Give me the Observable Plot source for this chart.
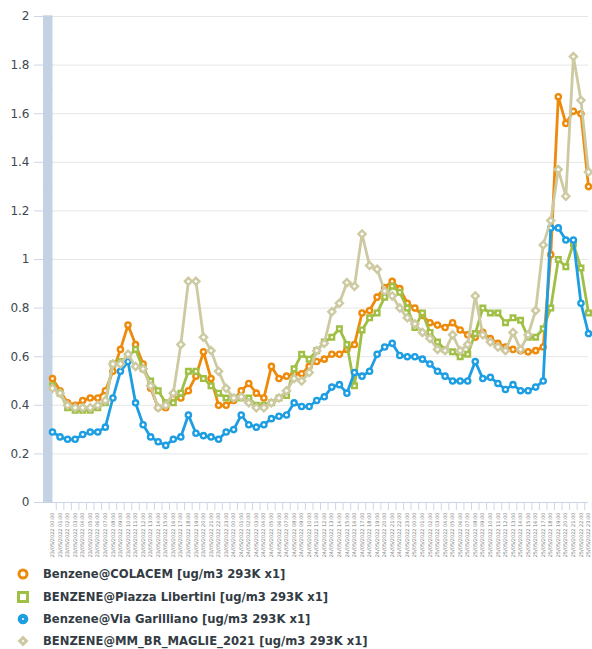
<!DOCTYPE html>
<html>
<head>
<meta charset="utf-8">
<script src="https://cdn.jsdelivr.net/npm/d3@7"></script>
<script src="https://cdn.jsdelivr.net/npm/@observablehq/plot@0.6"></script>
<style>
  html, body { margin: 0; padding: 0; background: #fff; overflow: hidden; }
  #chart { width: 592px; }
  .legend { font-family: "DejaVu Sans", Verdana, sans-serif; font-weight: bold; font-size: 11.6px; color: #333c44; padding: 1px 0 0 16px; }
  .legend .row { display: flex; align-items: center; height: 22.4px; white-space: nowrap; }
  .legend svg { margin-right: 13px; flex: none; }
</style>
</head>
<body>
<div id="chart"></div>
<script>
// ---- categories / tick labels ----
const days = ["23/05/2022", "24/05/2022", "25/05/2022"];
const hours = ["00:00","01:00","02:00","03:00","04:00","05:00","06:00","07:00","08:00","09:00","10:00","11:00",
               "12:00","13:00","14:00","15:00","16:00","17:00","18:00","19:00","20:00","21:00","22:00","23:00"];
const labels = days.flatMap(d => hours.map(h => `${d} ${h}`));

// ---- series values (ug/m3) ----
const colacem = [0.51,0.46,0.41,0.40,0.42,0.43,0.43,0.46,0.54,0.63,0.73,0.65,0.57,0.47,0.39,0.39,0.43,0.43,0.46,0.52,0.62,0.51,0.40,0.40,
                 0.42,0.46,0.49,0.45,0.43,0.56,0.51,0.52,0.53,0.53,0.56,0.58,0.59,0.61,0.61,0.63,0.65,0.78,0.79,0.845,0.885,0.91,0.88,0.82,
                 0.80,0.77,0.74,0.73,0.72,0.74,0.71,0.69,0.68,0.70,0.675,0.655,0.64,0.63,0.625,0.62,0.625,0.64,1.02,1.67,1.56,1.61,1.60,1.30];
const libertini = [0.48,0.45,0.39,0.38,0.38,0.38,0.39,0.41,0.57,0.58,0.60,0.63,0.55,0.50,0.46,0.41,0.41,0.45,0.54,0.54,0.51,0.48,0.45,0.43,
                   0.43,0.43,0.43,0.40,0.40,0.41,0.43,0.44,0.55,0.61,0.59,0.625,0.66,0.68,0.715,0.65,0.48,0.71,0.76,0.78,0.845,0.89,0.865,0.80,
                   0.72,0.78,0.70,0.66,0.63,0.62,0.60,0.61,0.695,0.80,0.78,0.78,0.74,0.76,0.75,0.68,0.68,0.715,0.80,1.00,0.97,1.065,0.965,0.78];
const garilliano = [0.29,0.27,0.26,0.26,0.28,0.29,0.29,0.31,0.43,0.54,0.58,0.41,0.32,0.27,0.25,0.235,0.26,0.27,0.36,0.285,0.275,0.27,0.26,0.29,
                    0.30,0.36,0.32,0.31,0.32,0.345,0.355,0.36,0.41,0.395,0.395,0.42,0.435,0.475,0.485,0.45,0.535,0.52,0.54,0.61,0.64,0.655,0.605,0.60,
                    0.60,0.59,0.57,0.54,0.52,0.50,0.50,0.50,0.58,0.51,0.515,0.49,0.465,0.485,0.46,0.46,0.475,0.50,1.13,1.13,1.08,1.08,0.82,0.695];
const maglie = [0.47,0.45,0.40,0.39,0.39,0.39,0.40,0.42,0.57,0.57,0.61,0.56,0.55,0.48,0.39,0.40,0.45,0.65,0.91,0.91,0.68,0.625,0.54,0.47,
                0.43,0.435,0.41,0.39,0.39,0.41,0.43,0.46,0.51,0.50,0.535,0.625,0.655,0.785,0.82,0.905,0.89,1.105,0.975,0.96,0.87,0.85,0.80,0.76,
                0.735,0.70,0.675,0.63,0.625,0.69,0.625,0.65,0.85,0.69,0.66,0.64,0.625,0.70,0.63,0.69,0.79,1.06,1.16,1.37,1.26,1.835,1.655,1.36];

const seriesNames = ["Benzene@COLACEM [ug/m3 293K x1]", "BENZENE@Piazza Libertini [ug/m3 293K x1]",
                     "Benzene@Via Garilliano [ug/m3 293K x1]", "BENZENE@MM_BR_MAGLIE_2021 [ug/m3 293K x1]"];
const seriesColors = ["#ee8a0a", "#a0bf45", "#1e9ee2", "#cdcaa2"];
const seriesSymbols = ["circle", "square", "circle", "diamond2"];
const seriesValues = [colacem, libertini, garilliano, maglie];

const yTicks = [0, 0.2, 0.4, 0.6, 0.8, 1, 1.2, 1.4, 1.6, 1.8, 2];
const bandStarts = [0,0.1,0.2,0.3,0.4,0.5,0.6,0.7,0.8,0.9,1.0,1.1,1.2,1.3,1.4,1.5,1.6,1.7,1.8,1.9];

const series = seriesNames.map((name, k) => ({
  name, color: seriesColors[k], symbol: seriesSymbols[k],
  data: seriesValues[k].map((v, i) => ({x: labels[i], y: v}))
}));

const marks = [
  Plot.gridY(yTicks, {stroke: "#e6e6e6", strokeOpacity: 1}),
  Plot.axisY(yTicks, {tickSize: 18, tickPadding: 5, stroke: "#ccd6eb", fontSize: 12, color: "#3d4852",
                      tickFormat: d => String(+d.toFixed(1)), label: null}),
  Plot.ruleX(bandStarts, {x: () => labels[0], y1: d => d, y2: d => d + 0.1, insetTop: 0.7, insetBottom: 0.7,
                          stroke: "#c3d3e3", strokeWidth: 9.5, dx: -4.75}),
  Plot.ruleY([0], {stroke: "#ccd6eb"}),
  Plot.axisX({tickSize: 8, text: null, stroke: "#ccd6eb", dx: 3.77, label: null}),
  Plot.axisX({tickSize: 0, tickPadding: 10, tickRotate: -90, fontSize: 5, color: "#7a7a7a", label: null})
];
for (const s of series) {
  marks.push(Plot.line(s.data, {x: "x", y: "y", stroke: s.color, strokeWidth: 2.8}));
  marks.push(Plot.dot(s.data, {x: "x", y: "y", symbol: () => s.symbol, stroke: s.color, fill: "#fff",
                                strokeWidth: 2.4, r: s.symbol === "diamond2" ? 3.2 : 2.6}));
}

const chart = Plot.plot({
  width: 592,
  height: 562,
  marginTop: 16,
  marginBottom: 60,
  marginLeft: 52,
  marginRight: 4,
  style: {fontFamily: "\"DejaVu Sans\", Verdana, sans-serif", background: "#fff", overflow: "visible"},
  x: {type: "point", domain: labels, padding: 0, label: null},
  y: {domain: [0, 2], label: null},
  symbol: {type: "identity"},
  marks
});
document.getElementById("chart").appendChild(chart);

// ---- legend ----
const legend = d3.select("#chart").append("div").attr("class", "legend");
series.forEach((s, k) => {
  const row = legend.append("div").attr("class", "row");
  const svg = row.append("svg").attr("width", 14).attr("height", 14);
  const g = svg.append("g").attr("transform", "translate(7,7)");
  if (k === 0) g.append("circle").attr("r", 4).attr("fill", "#fff").attr("stroke", s.color).attr("stroke-width", 3);
  if (k === 1) g.append("rect").attr("x", -4.5).attr("y", -4.5).attr("width", 9).attr("height", 9).attr("fill", "#fff").attr("stroke", s.color).attr("stroke-width", 3);
  if (k === 2) { g.append("circle").attr("r", 4.3).attr("fill", s.color).attr("stroke", s.color).attr("stroke-width", 2);
                 g.append("circle").attr("r", 1).attr("fill", "#fff"); }
  if (k === 3) { g.append("path").attr("d", "M0,-5.5L5.5,0L0,5.5L-5.5,0Z").attr("fill", s.color);
                 g.append("circle").attr("r", 1).attr("fill", "#fff"); }
  row.append("span").text(s.name);
});
</script>
</body>
</html>
